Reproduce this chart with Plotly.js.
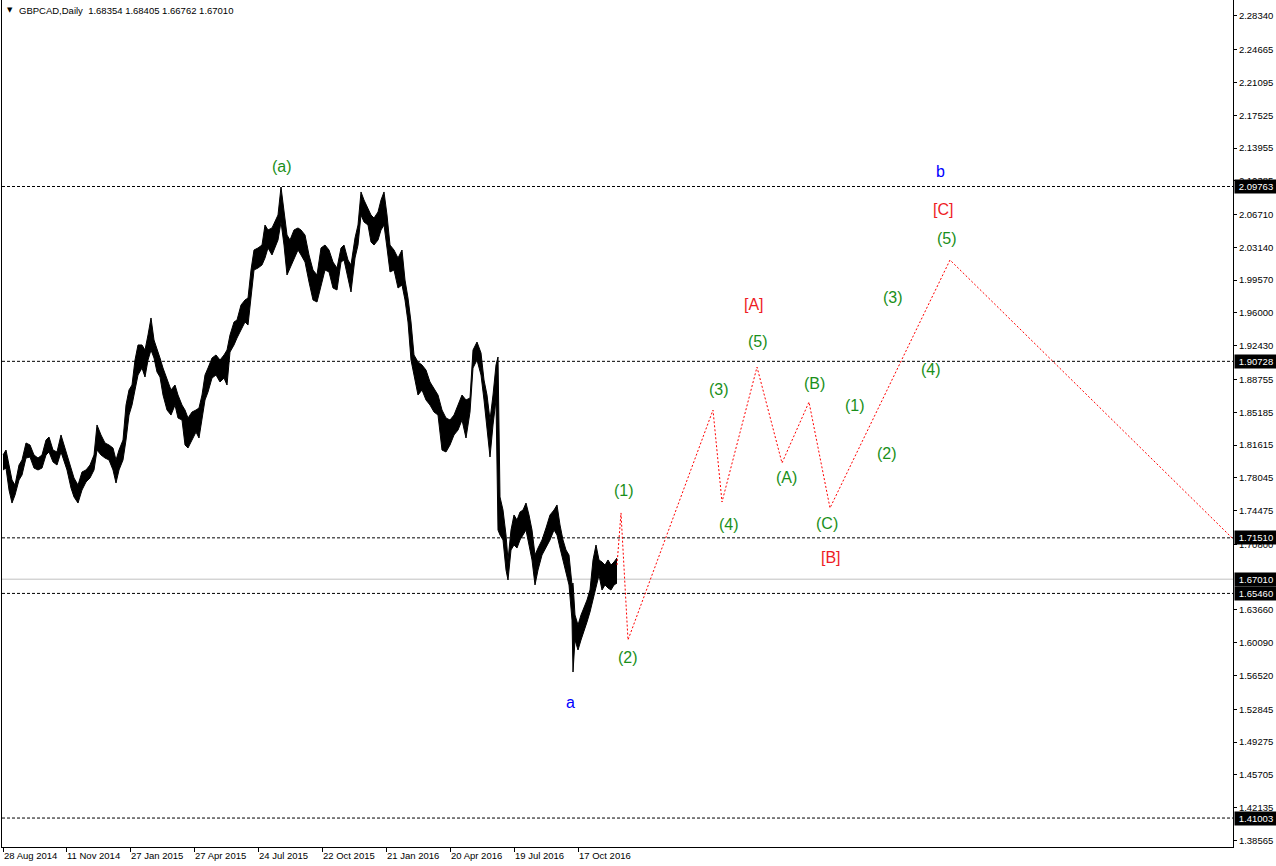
<!DOCTYPE html>
<html>
<head>
<meta charset="utf-8">
<script src="https://cdn.plot.ly/plotly-3.0.1.min.js"></script>
<style>
html,body{margin:0;padding:0;background:#fff;}
#chart{width:1276px;height:866px;}
</style>
</head>
<body>
<div id="chart"></div>
<script>
// ---- data (bar number counted from the first visible daily bar) ----
const bar = [0,3,6,9,12,16,19,23,27,31,35,39,43,46,50,54,58,61,64,68,71,75,79,83,87,91,94,98,102,106,110,113,116,120,123,126,129,132,135,139,142,145,148,151,154,157,160,164,168,172,175,179,182,185,189,193,196,199,202,205,209,213,217,221,224,227,231,234,238,242,245,248,251,255,259,262,265,269,272,275,278,281,284,287,291,295,298,302,306,310,314,318,322,326,330,334,338,341,345,348,352,355,358,361,365,368,371,375,378,381,384,387,391,395,399,402,405,408,411,415,419,423,427,431,435,439,443,447,451,455,459,463,467,470,474,478,481,484,487,490,493,495,497,500,503,505,508,511,514,517,520,523,526,529,532,535,539,543,547,551,554,557,560,563,566,569,570,572,575,578,581,584,587,590,593,596,599,602,605,608,611,614];
const hi = [1.8053,1.8107,1.7944,1.7781,1.7726,1.7944,1.7999,1.8184,1.8162,1.8053,
1.8020,1.8053,1.8216,1.8249,1.8107,1.8086,1.8271,1.8162,1.8053,1.7890,
1.7803,1.7726,1.7868,1.7890,1.7944,1.8053,1.8380,1.8271,1.8184,1.8162,
1.8129,1.7999,1.8107,1.8216,1.8597,1.8761,1.8815,1.9087,1.9251,1.9251,
1.9196,1.9360,1.9545,1.9305,1.9218,1.9109,1.9000,1.8870,1.8761,1.8815,
1.8706,1.8597,1.8543,1.8456,1.8521,1.8543,1.8565,1.8706,1.8924,1.9000,
1.9109,1.9142,1.9087,1.9142,1.9196,1.9360,1.9501,1.9523,1.9686,1.9741,
1.9762,2.0067,2.0285,2.0307,2.0339,2.0557,2.0503,2.0525,2.0590,2.0666,
2.0971,2.0721,2.0448,2.0394,2.0503,2.0525,2.0503,2.0448,2.0231,2.0067,
2.0013,2.0307,2.0339,2.0285,2.0154,2.0089,2.0307,2.0339,2.0176,2.0122,
2.0416,2.0557,2.0917,2.0829,2.0742,2.0666,2.0633,2.0699,2.0829,2.0917,
2.0666,2.0339,2.0285,2.0198,2.0285,1.9958,1.9762,1.9501,1.9142,1.9066,
1.9033,1.8978,1.8848,1.8782,1.8706,1.8543,1.8456,1.8434,1.8488,1.8597,
1.8706,1.8652,1.8674,1.9196,1.9283,1.9164,1.8870,1.8706,1.8434,1.8706,
1.9033,1.9120,1.7596,1.7454,1.7182,1.6910,1.7236,1.7400,1.7345,1.7432,
1.7454,1.7530,1.7400,1.7236,1.6964,1.7040,1.7128,1.7258,1.7400,1.7454,
1.7509,1.7291,1.7128,1.7019,1.6964,1.6638,1.6659,1.6311,1.6202,1.6311,
1.6387,1.6474,1.6583,1.6910,1.7073,1.6910,1.6888,1.6855,1.6910,1.6855,
1.6888,1.6932];
const lo = [1.7890,1.7911,1.7672,1.7530,1.7617,1.7781,1.7835,1.8020,1.8031,1.7911,
1.7890,1.7911,1.8053,1.8086,1.7977,1.7944,1.8086,1.7999,1.7890,1.7694,
1.7596,1.7530,1.7672,1.7759,1.7803,1.7890,1.8107,1.8053,1.8020,1.7999,
1.7890,1.7748,1.7890,1.7999,1.8216,1.8488,1.8597,1.8761,1.8924,1.9000,
1.8902,1.9087,1.9196,1.9109,1.8957,1.8902,1.8706,1.8543,1.8488,1.8597,
1.8456,1.8434,1.8162,1.8129,1.8216,1.8303,1.8238,1.8434,1.8652,1.8739,
1.8891,1.8924,1.8848,1.8891,1.8815,1.9174,1.9251,1.9327,1.9414,1.9501,
1.9468,1.9741,2.0067,2.0089,2.0122,2.0198,2.0307,2.0231,2.0307,2.0394,
2.0590,2.0339,2.0013,2.0089,2.0198,2.0285,2.0231,2.0154,1.9937,1.9741,
1.9719,1.9904,2.0067,2.0046,1.9871,1.9850,2.0154,2.0176,1.9958,1.9828,
2.0198,2.0339,2.0666,2.0590,2.0557,2.0372,2.0339,2.0394,2.0503,2.0557,
2.0307,2.0046,2.0067,1.9871,1.9904,1.9741,1.9501,1.9087,1.8924,1.8706,
1.8761,1.8652,1.8597,1.8521,1.8488,1.8107,1.8086,1.8162,1.8271,1.8325,
1.8434,1.8238,1.8521,1.9000,1.9087,1.8924,1.8652,1.8325,1.8031,1.8380,
1.8652,1.7236,1.7182,1.7128,1.6801,1.6692,1.7019,1.7073,1.7040,1.7128,
1.7182,1.7236,1.7073,1.6910,1.6638,1.6801,1.6964,1.7040,1.7128,1.7236,
1.7182,1.7040,1.6910,1.6801,1.6638,1.6256,1.5690,1.6039,1.5930,1.6039,
1.6126,1.6235,1.6344,1.6474,1.6583,1.6746,1.6583,1.6638,1.6605,1.6583,
1.6638,1.6659];

// projected wave path (red dotted)
const projBar = [614,618,625,710,719,754,779,806,827,947,1230];
const projPrice = [1.6855,1.7422,1.6039,1.8543,1.7541,1.9011,1.7966,1.8630,1.7476,2.0176,1.7140];

// horizontal levels
const levelPrices = [2.09763,1.90728,1.71510,1.65460,1.41003];
const currentPrice = 1.67010;
const boxPrices = [2.09763,1.90728,1.71510,1.67010,1.65460,1.41003];

// axis ticks
const yTickVals = [2.28340,2.24665,2.21095,2.17525,2.13955,2.10385,2.06710,2.03140,1.99570,1.96000,1.92430,1.88755,1.85185,1.81615,1.78045,1.74475,1.70800,1.63660,1.60090,1.56520,1.52845,1.49275,1.45705,1.42135,1.38565];
const xTickBars = [0,63,127,191,255,319,383,447,511,575];
const xTickLabels = ["28 Aug 2014","11 Nov 2014","27 Jan 2015","27 Apr 2015","24 Jul 2015","22 Oct 2015","21 Jan 2016","20 Apr 2016","19 Jul 2016","17 Oct 2016"];

// wave labels
const waveText  = ["(a)","a","(1)","(2)","(3)","(4)","(5)","[A]","(A)","(B)","(C)","[B]","(1)","(2)","(3)","(4)","(5)","[C]","b"];
const waveKind  = ["g","b","g","g","g","g","g","r","g","g","g","r","g","g","g","g","g","r","b"];
const waveBar   = [279,567,621,625,716,726,755,751,783,811,824,828,852,884,890,928,944,940,937];
const wavePrice = [2.1189,1.5353,1.7672,1.5843,1.8761,1.7291,1.9294,1.9697,1.7813,1.8837,1.7302,1.6942,1.8597,1.8064,1.9773,1.8989,2.0405,2.0721,2.1145];

// ---- drawing ----
const FONT = "Liberation Sans, Arial, sans-serif";
const kindColor = {g:"#1a8f1a", r:"#ee1c25", b:"#0000ff"};

const traces = [
  {x: bar, y: lo, type: "scatter", mode: "lines", line: {color: "#000", width: 1}, hoverinfo: "skip"},
  {x: bar, y: hi, type: "scatter", mode: "lines", fill: "tonexty", fillcolor: "#000", line: {color: "#000", width: 1}, hoverinfo: "skip"},
  {x: projBar, y: projPrice, type: "scatter", mode: "lines", line: {color: "#ff0000", width: 1, dash: "2px,2px"}, hoverinfo: "skip"}
];

const shapes = levelPrices.map(p => ({
  type: "line", xref: "paper", x0: 0, x1: 1, yref: "y", y0: p, y1: p,
  line: {color: "#000", width: 1, dash: "3px,2px"}, layer: "below"
}));
shapes.push({type: "line", xref: "paper", x0: 0, x1: 1, yref: "y", y0: currentPrice, y1: currentPrice,
  line: {color: "#c0c0c0", width: 1}, layer: "below"});

const annotations = [];
boxPrices.forEach(p => annotations.push({
  xref: "paper", x: 1, xanchor: "left", xshift: 1, yref: "y", y: p, yanchor: "middle",
  text: p.toFixed(5), showarrow: false, bgcolor: "#000", borderpad: 1, width: 40, align: "center",
  font: {family: FONT, size: 9.5, color: "#fff"}
}));
waveText.forEach((t, i) => annotations.push({
  x: waveBar[i], y: wavePrice[i], xref: "x", yref: "y", text: t, showarrow: false,
  font: {family: FONT, size: 16, color: kindColor[waveKind[i]]}
}));
annotations.push({xref: "paper", yref: "paper", x: 0, y: 1, xanchor: "left", yanchor: "top", xshift: 3, yshift: -4,
  text: "▼", showarrow: false, font: {family: "DejaVu Sans, sans-serif", size: 7, color: "#000"}});
annotations.push({xref: "paper", yref: "paper", x: 0, y: 1, xanchor: "left", yanchor: "top", xshift: 15, yshift: -3,
  text: "GBPCAD,Daily\u00a0\u00a01.68354 1.68405 1.66762 1.67010", showarrow: false,
  font: {family: FONT, size: 9.5, color: "#000"}});

const layout = {
  width: 1276, height: 866,
  margin: {l: 2, r: 43, t: 0, b: 19, pad: 0},
  paper_bgcolor: "#fff", plot_bgcolor: "#fff",
  showlegend: false, hovermode: false,
  xaxis: {
    range: [-1, 1230], showgrid: false, zeroline: false,
    showline: true, linecolor: "#000", linewidth: 1, mirror: false,
    ticks: "outside", ticklen: 4, tickcolor: "#000",
    tickmode: "array", tickvals: xTickBars, ticktext: xTickLabels,
    ticklabelposition: "outside right",
    tickfont: {family: FONT, size: 9.5, color: "#000"}
  },
  yaxis: {
    range: [1.3785, 2.3007], side: "right", showgrid: false, zeroline: false,
    showline: true, linecolor: "#000", linewidth: 1, mirror: true,
    ticks: "outside", ticklen: 3, tickcolor: "#000",
    tickmode: "array", tickvals: yTickVals, ticktext: yTickVals.map(v => v.toFixed(5)),
    tickfont: {family: FONT, size: 9.5, color: "#000"}
  },
  shapes: shapes,
  annotations: annotations
};

Plotly.newPlot("chart", traces, layout, {staticPlot: true, displayModeBar: false});
</script>
</body>
</html>
